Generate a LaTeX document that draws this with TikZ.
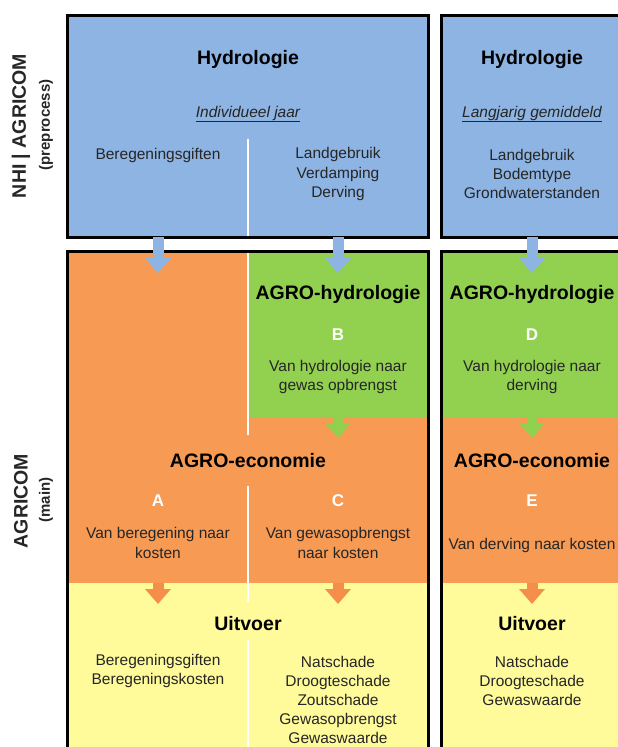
\documentclass[tikz,border=0pt]{standalone}
\usepackage{fontspec}
\setmainfont{Liberation Sans}
\usetikzlibrary{arrows.meta}
\definecolor{hblue}{HTML}{8EB4E3}
\definecolor{orng}{HTML}{F69A54}
\definecolor{orarrow}{HTML}{F58E4A}
\definecolor{grn}{HTML}{92D050}
\definecolor{yel}{HTML}{FFFA9A}
\definecolor{txt}{HTML}{262626}
\tikzset{
  region/.style={draw=none, inner sep=0pt, outer sep=0pt, anchor=north west},
  frame/.style={draw=black, line width=3pt},
  divider/.style={draw=white, line width=2.5pt},
  title/.style={font=\fontsize{19.5}{23}\selectfont\bfseries, text=black, inner sep=0pt},
  body/.style={font=\fontsize{15.5}{19.2}\selectfont, text=txt, align=center, inner sep=0pt},
  letter/.style={font=\fontsize{17}{20}\selectfont\bfseries, text=white, inner sep=0pt},
  side/.style={font=\fontsize{19.5}{23}\selectfont\bfseries, text=txt, rotate=90, inner sep=0pt},
  sidesub/.style={font=\fontsize{15}{18}\selectfont\bfseries, text=txt, rotate=90, inner sep=0pt},
  barrow/.style={line width=11pt, line cap=butt, -{Triangle[width=25pt,length=15pt]}},
}
\begin{document}
\begin{tikzpicture}[x=1pt,y=-1pt]
\useasboundingbox (0,0) rectangle (618,747);
% regions
\node[region, fill=hblue, minimum width=361pt, minimum height=222pt] (hydL) at (67,15) {};
\node[region, fill=hblue, minimum width=183pt, minimum height=222pt] (hydR) at (441,15) {};
\node[region, fill=orng, minimum width=181pt, minimum height=332pt] (econA) at (67,251) {};
\node[region, fill=grn, minimum width=180pt, minimum height=167pt] (hydB) at (248,251) {};
\node[region, fill=orng, minimum width=180pt, minimum height=165pt] (econC) at (248,418) {};
\node[region, fill=yel, minimum width=361pt, minimum height=177pt] (outL) at (67,583) {};
\node[region, fill=grn, minimum width=183pt, minimum height=167pt] (hydD) at (441,251) {};
\node[region, fill=orng, minimum width=183pt, minimum height=165pt] (econE) at (441,418) {};
\node[region, fill=yel, minimum width=183pt, minimum height=177pt] (outR) at (441,583) {};
% dividers
\draw[divider] (248,139) -- (248,237);
\draw[divider] (248,251) -- (248,435);
\draw[divider] (248,486) -- (248,602);
\draw[divider] (248,640) -- (248,760);
% frames
\draw[frame] (67,15) rectangle (428,237);
\draw[frame] (441,15) rectangle (624,237);
\draw[frame] (67,251) rectangle (428,760);
\draw[frame] (441,251) rectangle (624,760);
% arrow coordinates
\coordinate (xA) at (158,0);
\coordinate (xB) at (338,0);
\coordinate (xD) at (532,0);
\coordinate (tA1) at (158,273);
\coordinate (tB1) at (338,273);
\coordinate (tD1) at (532,273);
\coordinate (tC2) at (338,438);
\coordinate (tE2) at (532,438);
\coordinate (tA3) at (158,604);
\coordinate (tC3) at (338,604);
\coordinate (tE3) at (532,604);
% arrows
\draw[barrow, draw=hblue, fill=hblue] (hydL.south -| xA) -- (tA1);
\draw[barrow, draw=hblue, fill=hblue] (hydL.south -| xB) -- (tB1);
\draw[barrow, draw=hblue, fill=hblue] (hydR.south -| xD) -- (tD1);
\draw[barrow, draw=grn, fill=grn] (hydB.south -| xB) -- (tC2);
\draw[barrow, draw=grn, fill=grn] (hydD.south -| xD) -- (tE2);
\draw[barrow, draw=orarrow, fill=orarrow] (econA.south -| xA) -- (tA3);
\draw[barrow, draw=orarrow, fill=orarrow] (econC.south -| xB) -- (tC3);
\draw[barrow, draw=orarrow, fill=orarrow] (econE.south -| xD) -- (tE3);
% side labels
\node[side] (s1) at (21,126) {NHI | AGRICOM};
\node[sidesub] (s2) at (46,125) {(preprocess)};
\node[side] (s3) at (21,501) {AGRICOM};
\node[sidesub] (s4) at (46,500) {(main)};
% top texts
\node[title] (h1) at (248,59) {Hydrologie};
\node[title] (h2) at (532,59) {Hydrologie};
\node[body, font=\fontsize{15.5}{19}\selectfont\itshape] (h1s) at (248,114) {\underline{Individueel jaar}};
\node[body, font=\fontsize{15.5}{19}\selectfont\itshape] (h2s) at (532,114) {\underline{Langjarig gemiddeld}};
\node[body] (h1a) at (158,155) {Beregeningsgiften};
\node[body] (h1b) at (338,174) {Landgebruik\\Verdamping\\Derving};
\node[body] (h2a) at (532,174) {Landgebruik\\Bodemtype\\Grondwaterstanden};
% agro-hydrologie
\node[title] (ah1) at (338,294) {AGRO-hydrologie};
\node[title] (ah2) at (532,294) {AGRO-hydrologie};
\node[letter] (lB) at (338,335) {B};
\node[letter] (lD) at (532,335) {D};
\node[body] (tB) at (338,377) {Van hydrologie naar\\gewas opbrengst};
\node[body] (tD) at (532,377) {Van hydrologie naar\\derving};
% agro-economie
\node[title] (ae1) at (248,461) {AGRO-economie};
\node[title] (ae2) at (532,461) {AGRO-economie};
\node[letter] (lA) at (158,501) {A};
\node[letter] (lC) at (338,501) {C};
\node[letter] (lE) at (532,501) {E};
\node[body] (tA) at (158,543) {Van beregening naar\\kosten};
\node[body] (tC) at (338,543) {Van gewasopbrengst\\naar kosten};
\node[body] (tE) at (532,545) {Van derving naar kosten};
% uitvoer
\node[title] (u1) at (248,624) {Uitvoer};
\node[title] (u2) at (532,624) {Uitvoer};
\node[body] (o1) at (158,671) {Beregeningsgiften\\Beregeningskosten};
\node[body] (o2) at (338,700) {Natschade\\Droogteschade\\Zoutschade\\Gewasopbrengst\\Gewaswaarde};
\node[body] (o3) at (532,681) {Natschade\\Droogteschade\\Gewaswaarde};
\end{tikzpicture}
\end{document}
